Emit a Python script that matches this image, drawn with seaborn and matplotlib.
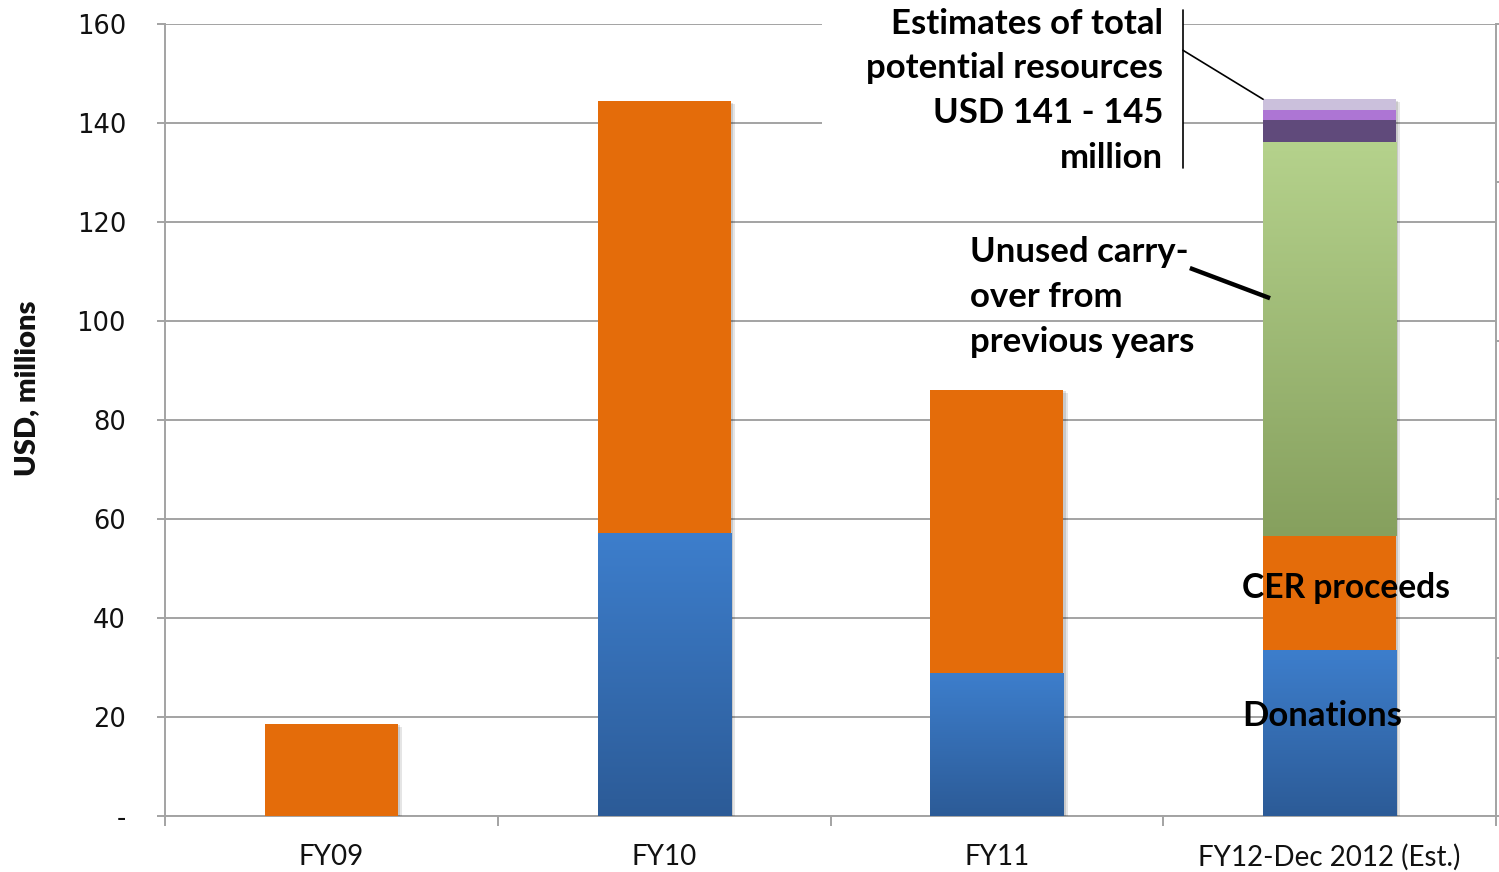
import numpy as np
import pandas as pd
import matplotlib
matplotlib.use("Agg")
import matplotlib.pyplot as plt
import matplotlib.patheffects as pe
from matplotlib.colors import LinearSegmentedColormap
from matplotlib.patches import Rectangle
import seaborn as sns

# Resources by fiscal year, USD millions
categories = ["FY09", "FY10", "FY11", "FY12-Dec 2012 (Est.)"]
donations = [0.0, 57.0, 28.7, 33.5]
cer_proceeds = [18.6, 87.4, 57.4, 23.1]
carry_over = [0.0, 0.0, 0.0, 79.4]
potential_low = [0.0, 0.0, 0.0, 4.6]
potential_mid = [0.0, 0.0, 0.0, 2.0]
potential_high = [0.0, 0.0, 0.0, 2.2]

y_ticks = [0, 20, 40, 60, 80, 100, 120, 140, 160]
y_tick_labels = ["-", "20", "40", "60", "80", "100", "120", "140", "160"]

layers = [
    ("Donations", donations, "#3a7bc8"),
    ("CER proceeds", cer_proceeds, "#e46c0a"),
    ("Unused carry-over", carry_over, "#b3cf8a"),
    ("Potential A", potential_low, "#604a7b"),
    ("Potential B", potential_mid, "#ad75d4"),
    ("Potential C", potential_high, "#cbc0dc"),
]

df = pd.DataFrame({"category": categories})
stack = np.zeros(len(categories))
tops = []
for name, vals, _ in layers:
    stack = stack + np.array(vals)
    df[name] = stack.copy()
    tops.append(stack.copy())

sns.set_theme(style="white")
plt.rcParams["font.family"] = ["Lato", "DejaVu Sans"]

fig = plt.figure(figsize=(14.99, 8.72), dpi=100)
ax = fig.add_axes([165 / 1499, 56 / 872, 1331 / 1499, 792 / 872])

BAR_W = 0.40
grid_c = "#a3a3a3"

# Draw cumulative totals from the top layer down so each segment shows
for i, (name, vals, color) in enumerate(reversed(layers)):
    sns.barplot(data=df, x="category", y=name, color=color, width=BAR_W,
                saturation=1, ax=ax, zorder=3 + i, linewidth=0)

# soft shadow on the full bar (first drawn container)
for patch in ax.containers[0]:
    patch.set_path_effects([
        pe.SimplePatchShadow(offset=(3, -2), shadow_rgbFace="#000000", alpha=0.10),
        pe.SimplePatchShadow(offset=(1.5, -1), shadow_rgbFace="#000000", alpha=0.12),
        pe.Normal(),
    ])

# Vertical gradients for donations and carry-over segments
blue_cmap = LinearSegmentedColormap.from_list("blue", ["#2c5b97", "#3d7ecc"])
green_cmap = LinearSegmentedColormap.from_list("green", ["#86a05e", "#b5d28c"])
grad = np.linspace(0, 1, 256).reshape(-1, 1)
bottoms = [np.zeros(len(categories))] + tops[:-1]
for layer_idx, cmap in [(0, blue_cmap), (2, green_cmap)]:
    for j in range(len(categories)):
        lo, hi = bottoms[layer_idx][j], tops[layer_idx][j]
        if hi - lo <= 0:
            continue
        ax.imshow(grad, cmap=cmap, origin="lower", aspect="auto",
                  extent=[j - BAR_W / 2, j + BAR_W / 2, lo, hi],
                  zorder=20, interpolation="bicubic")

ax.set_xlim(-0.5, len(categories) - 0.5)
ax.set_ylim(0, 160)
ax.set_yticks(y_ticks)
ax.set_yticklabels(y_tick_labels, fontfamily="DejaVu Sans", fontsize=18.5, color="#111111")
ax.set_xlabel("")
ax.set_ylabel("USD, millions", fontsize=21, fontweight="heavy", color="#111111")
ax.yaxis.set_label_coords(-0.094, 0.54)

ax.set_axisbelow(True)
ax.yaxis.grid(True, color=grid_c, linewidth=1.4)
ax.xaxis.grid(False)
for s in ["top", "right"]:
    ax.spines[s].set_visible(False)
for s in ["left", "bottom"]:
    ax.spines[s].set_color(grid_c)
    ax.spines[s].set_linewidth(1.4)

ax.tick_params(axis="y", which="major", length=6, width=1.4, color=grid_c, pad=22,
               left=True, direction="out")
ax.set_xticks(range(len(categories)))
ax.set_xticklabels(categories, fontsize=20, color="#111111")
ax.set_xticks(np.arange(-0.5, len(categories), 1.0), minor=True)
ax.tick_params(axis="x", which="major", length=0, pad=20)
ax.tick_params(axis="x", which="minor", length=7, width=1.4, color=grid_c,
               bottom=True, direction="out")

# Secondary axis on the right (unlabelled)
ax2 = ax.twinx()
ax2.set_ylim(0, 1)
ax2.set_yticks(np.linspace(0, 1, 6))
ax2.set_yticklabels([])
ax2.grid(False)
for s in ["top", "left", "bottom"]:
    ax2.spines[s].set_visible(False)
ax2.spines["right"].set_color(grid_c)
ax2.spines["right"].set_linewidth(1.4)
ax2.tick_params(axis="y", length=4, width=1.4, color=grid_c, direction="out", right=True)

# White panel behind the total-resources note
ax.add_patch(Rectangle((1.474, 130.0), 2.559 - 1.474, 40, facecolor="white",
                       edgecolor="none", zorder=30, clip_on=False))

note_kw = dict(fontsize=25, fontweight="bold", color="black", zorder=40)
ax.text(2.499, 146.5, "Estimates of total\npotential resources\nUSD 141 - 145\nmillion",
        ha="right", va="center", linespacing=1.49, **note_kw)
ax.plot([2.559, 2.559], [130.9, 162.8], color="black", linewidth=1.2, zorder=41,
        clip_on=False)
ax.plot([2.559, 2.800], [154.7, tops[-1][3]], color="black", linewidth=1.2, zorder=41,
        clip_on=False)

ax.text(1.919, 104.8, "Unused carry-\nover from\nprevious years",
        ha="left", va="center", linespacing=1.49, **note_kw)
ax.plot([2.580, 2.821], [110.7, 104.6], color="black", linewidth=3.2, zorder=41,
        solid_capstyle="butt")

ax.text(2.737, 46.1, "CER proceeds", ha="left", va="center",
        **{**note_kw, "fontsize": 24.2})
ax.text(2.737, 20.2, "Donations", ha="left", va="center", **note_kw)

fig.savefig("out.png", dpi=100, facecolor="white")
